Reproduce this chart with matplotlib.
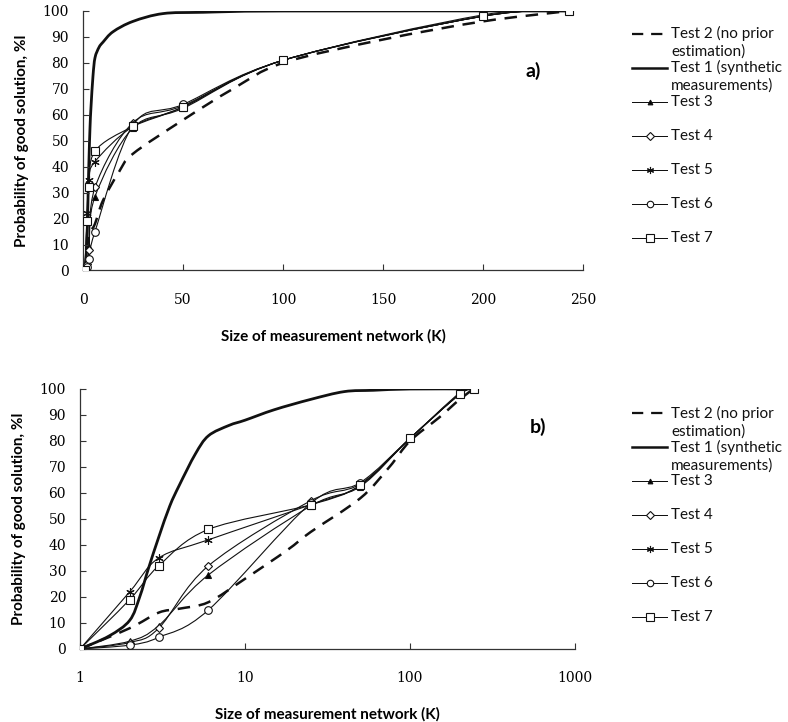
import numpy as np
import matplotlib
matplotlib.use('Agg')
import matplotlib.pyplot as plt
from matplotlib.path import Path
from matplotlib.patches import PathPatch
from matplotlib.lines import Line2D

# data
k_tests = [1, 2, 3, 6, 25, 50, 100, 200, 243]
test3 = [0, 3, 9, 28.5, 55, 62.5, 81, 98, 100]
test4 = [0, 2.5, 8, 32, 57, 63.5, 81, 98.5, 100]
test5 = [0, 22, 35, 42, 55.5, 63, 81, 98, 100]
test6 = [0, 1.5, 4.5, 15, 56, 64, 81, 98, 100]
test7 = [0, 19, 32, 46, 55.5, 63, 81, 98, 100]

k_test1 = [1, 1.5, 2, 2.3, 2.6, 3, 3.5, 4, 5, 6, 8, 10, 15, 25, 40, 60, 100, 243]
test1 = [0, 5, 11, 20, 31, 43, 55, 63, 75, 82, 86, 88, 92, 96, 99, 99.5, 100, 100]

k_test2 = [1, 2, 3, 4, 6, 10, 18, 25, 50, 75, 100, 150, 200, 243]
test2 = [0, 8, 14, 15.5, 18, 27, 38, 45, 58, 70, 80, 89, 96, 100]

labels = ['Test 2 (no prior\nestimation)', 'Test 1 (synthetic\nmeasurements)',
          'Test 3', 'Test 4', 'Test 5', 'Test 6', 'Test 7']

W, H = 788, 722
TICK_FONT = 'DejaVu Serif'
TEXT_FONT = 'Lato'


def smooth_path(x, y, logx=False):
    # excel-like smoothed line (catmull-rom as cubic bezier)
    u = np.log10(x) if logx else np.asarray(x, float)
    y = np.asarray(y, float)
    n = len(u)
    verts = [(u[0], y[0])]
    codes = [Path.MOVETO]
    for i in range(n - 1):
        p0 = i - 1 if i > 0 else i
        p3 = i + 2 if i + 2 < n else i + 1
        c1 = (u[i] + (u[i + 1] - u[p0]) / 6, y[i] + (y[i + 1] - y[p0]) / 6)
        c2 = (u[i + 1] - (u[p3] - u[i]) / 6, y[i + 1] - (y[p3] - y[i]) / 6)
        verts += [c1, c2, (u[i + 1], y[i + 1])]
        codes += [Path.CURVE4] * 3
    verts = np.array(verts)
    if logx:
        verts[:, 0] = 10 ** verts[:, 0]
    return Path(verts, codes)


styles = [
    dict(lw=1.8, ls=(0, (5, 3.5)), marker=None),   # test 2
    dict(lw=2.0, ls='-', marker=None),             # test 1
    dict(lw=0.8, ls='-', marker='^', mfc='black', ms=4),
    dict(lw=0.8, ls='-', marker='D', mfc='white', ms=4.5),
    dict(lw=0.8, ls='-', marker=(6, 2, 0), mfc='none', ms=6),
    dict(lw=0.8, ls='-', marker='o', mfc='white', ms=5.5),
    dict(lw=0.8, ls='-', marker='s', mfc='white', ms=6),
]
series = [(k_test2, test2), (k_test1, test1), (k_tests, test3), (k_tests, test4),
          (k_tests, test5), (k_tests, test6), (k_tests, test7)]


def draw_panel(ax, logx):
    for (xs, ys), st in zip(series, styles):
        patch = PathPatch(smooth_path(xs, ys, logx), fill=False, edgecolor='#111111',
                          lw=st['lw'], linestyle=st['ls'], capstyle='butt')
        ax.add_patch(patch)
        if st['marker'] is not None:
            ax.plot(xs, ys, linestyle='none', marker=st['marker'], ms=st['ms'],
                    mfc=st['mfc'], mec='#111111', mew=0.8, zorder=3)
    ax.set_ylim(0, 100)
    ax.set_yticks(range(0, 101, 10))
    for s in ['top', 'right']:
        ax.spines[s].set_visible(False)
    for s in ['left', 'bottom']:
        ax.spines[s].set_color('#333333')
        ax.spines[s].set_linewidth(0.9)
    ax.tick_params(axis='x', direction='in', length=4, pad=16, labelsize=10, color='#333333')
    ax.tick_params(axis='y', direction='in', length=4, pad=10, labelsize=10, color='#333333')
    ax.tick_params(which='minor', length=0)
    for lab in ax.get_xticklabels() + ax.get_yticklabels():
        lab.set_family(TICK_FONT)
    ax.set_xlabel('Size of measurement network (K)', fontsize=11, fontweight='bold',
                  family=TEXT_FONT, labelpad=16)
    ax.set_ylabel('Probability of good solution, %l', fontsize=11, fontweight='bold',
                  family=TEXT_FONT, labelpad=10)


def draw_legend(fig, y0_px):
    for i, (lab, st) in enumerate(zip(labels, styles)):
        y = 1 - (y0_px + 34 * i) / H
        fig.add_artist(Line2D([632 / W, 667 / W], [y, y], transform=fig.transFigure,
                              color='#111111', lw=st['lw'] * 0.9, linestyle=st['ls']))
        if st['marker'] is not None:
            fig.add_artist(Line2D([649.5 / W], [y], transform=fig.transFigure, marker=st['marker'],
                                  ms=st['ms'] * 0.85, mfc=st['mfc'], mec='#111111', mew=0.8))
        for j, line in enumerate(lab.split('\n')):
            fig.text(671 / W, y - j * 18.5 / H, line, va='center', ha='left',
                     fontsize=11, family=TEXT_FONT, color='#111111')


fig = plt.figure(figsize=(W / 100, H / 100), dpi=100)

ax1 = fig.add_axes([83 / W, 1 - 270.5 / H, 500 / W, 259.5 / H])
draw_panel(ax1, logx=False)
ax1.set_xlim(0, 250)
ax1.set_xticks(range(0, 251, 50))
for lab in ax1.get_xticklabels():
    lab.set_family(TICK_FONT)
fig.text(533 / W, 1 - 71 / H, 'a)', fontsize=14, fontweight='bold', family=TEXT_FONT,
         ha='center', va='center')

ax2 = fig.add_axes([80 / W, 1 - 649 / H, 495 / W, 260 / H])
ax2.set_xscale('log')
draw_panel(ax2, logx=True)
ax2.set_xlim(1, 1000)
ax2.set_xticks([1, 10, 100, 1000])
ax2.set_xticklabels(['1', '10', '100', '1000'])
for lab in ax2.get_xticklabels():
    lab.set_family(TICK_FONT)
fig.text(538 / W, 1 - 427 / H, 'b)', fontsize=14, fontweight='bold', family=TEXT_FONT,
         ha='center', va='center')

draw_legend(fig, 33.5)
draw_legend(fig, 413)

fig.savefig('out.png', dpi=100)
